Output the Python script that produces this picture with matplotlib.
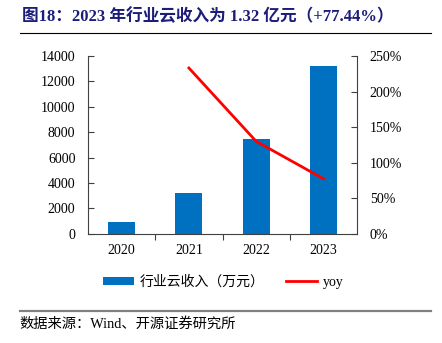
import matplotlib
matplotlib.use("Agg")
import matplotlib.pyplot as plt
from matplotlib.ticker import FuncFormatter, FixedLocator

plt.rcParams['font.family'] = ['Liberation Serif', 'Noto Sans CJK SC', 'DejaVu Sans']

years = ['2020', '2021', '2022', '2023']
revenue = [960, 3200, 7440, 13200]
yoy = [None, 2.33, 1.30, 0.7744]

title = "图18：2023 年行业云收入为 1.32 亿元（+77.44%）"
source = "数据来源：Wind、开源证券研究所"
bar_label = "行业云收入（万元）"
line_label = "yoy"

BLUE = '#0070C0'
RED = '#FF0000'

fig = plt.figure(figsize=(4.42, 3.43), dpi=100)
ax = fig.add_axes([0.199, 0.318, 0.609, 0.519])
ax2 = ax.twinx()

x = list(range(len(years)))
bars = ax.bar(x, revenue, width=0.4, color=BLUE, label=bar_label, zorder=2)
xl = [i for i, v in zip(x, yoy) if v is not None]
yl = [v for v in yoy if v is not None]
line, = ax2.plot(xl, yl, color=RED, lw=2, label=line_label, zorder=3)

ax.set_xlim(-0.5, 3.5)
ax.set_ylim(0, 14000)
ax.set_yticks(range(0, 14001, 2000))
ax2.set_ylim(0, 2.5)
ax2.set_yticks([0, 0.5, 1.0, 1.5, 2.0, 2.5])
ax2.yaxis.set_major_formatter(FuncFormatter(lambda v, p: f"{v*100:.0f}%"))

ax.set_xticks(x)
ax.set_xticklabels(years)
ax.xaxis.set_minor_locator(FixedLocator([0.5, 1.5, 2.5]))
ax.tick_params(axis='x', which='major', length=0, pad=7, labelsize=10)
ax.tick_params(axis='x', which='minor', length=4, direction='out', width=0.8, color='#404040')
ax.tick_params(axis='y', direction='in', length=4, width=0.8, labelsize=10, pad=9, color='#404040')
ax2.tick_params(axis='y', direction='in', length=4, width=0.8, labelsize=10, pad=9, color='#404040')

for a in (ax, ax2):
    a.spines['top'].set_visible(False)
    for s in ('left', 'right', 'bottom'):
        a.spines[s].set_color('#404040')
        a.spines[s].set_linewidth(0.8)
ax.spines['right'].set_visible(False)
ax2.spines['left'].set_visible(False)
ax2.spines['bottom'].set_visible(False)

fig.text(0.05, 0.952, title, fontsize=12, fontweight='bold', color='#1C1C7A', va='center', ha='left')
fig.add_artist(plt.Line2D([0.045, 0.975], [0.904, 0.904], color='black', lw=0.8))
fig.add_artist(plt.Line2D([0.045, 0.975], [0.093, 0.093], color='#808080', lw=1.6))
fig.text(0.045, 0.055, source, fontsize=10.3, color='black', va='center', ha='left')

fig.legend(handles=[bars, line], labels=[bar_label, line_label], loc='center',
           bbox_to_anchor=(0.505, 0.178), ncol=2, frameon=False, fontsize=10,
           handlelength=2.2, handleheight=0.55, columnspacing=1.6, handletextpad=0.4)

fig.savefig('out.png', dpi=100)
